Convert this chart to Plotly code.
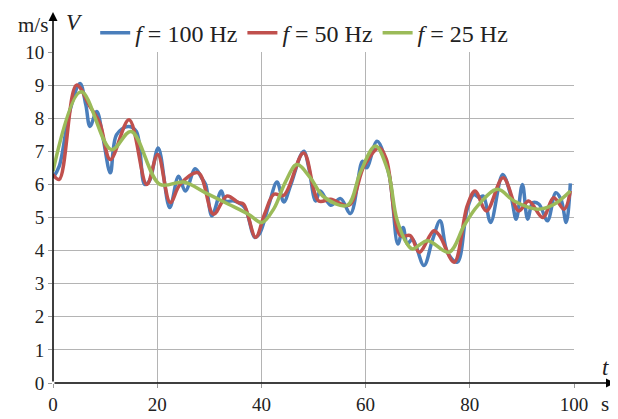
import plotly.graph_objects as go

# f = 100 Hz
t_100 = [0, 1.2, 3.2, 5.2, 6.3, 7.1, 8.4, 9.6, 11.0, 12.2, 14.4, 16.0, 17.6, 18.5, 20.2,
         22.4, 24.1, 25.4, 27.3, 28.5, 29.3, 30.5, 32.3, 33.1, 34.8, 36.8, 38.7, 39.6,
         41.4, 43.0, 44.3, 45.6, 47.6, 48.2, 49.1, 50.4, 51.3, 53.3, 55.2, 57.1, 59.4,
         60.2, 62.2, 64.5, 66.2, 67.2, 68.0, 69.0, 71.2, 72.8, 74.3, 75.7, 77.6, 79.5,
         80.8, 81.8, 82.6, 84.0, 86.3, 87.9, 88.9, 90.1, 91.1, 92.1, 93.3, 94.9, 96.5,
         97.5, 98.5, 99.3]
v_100 = [6.2, 6.55, 8.2, 9.05, 8.4, 7.75, 8.2, 7.4, 6.35, 7.5, 7.75, 7.6, 6.0, 6.1, 7.1,
         5.3, 6.25, 5.8, 6.47, 6.2, 6.0, 5.05, 5.8, 5.5, 5.5, 5.3, 4.4, 4.5,
         5.37, 6.07, 5.47, 5.97, 6.9, 7.0, 6.5, 5.5, 5.8, 5.37, 5.57, 5.12, 6.7,
         6.5, 7.3, 6.3, 4.2, 4.7, 4.2, 4.35, 3.55, 4.3, 4.9, 3.95, 3.65, 5.25,
         5.7, 5.6, 5.65, 4.85, 6.3, 5.65, 4.95, 6.0, 4.95, 5.45, 5.4, 4.9, 5.75,
         5.55, 4.85, 6.03]

# f = 50 Hz
t_50 = [0, 1.2, 4.5, 7.1, 9.0, 11.0, 14.6, 18.0, 20.1, 22.5, 24.4, 27.9, 30.8, 33.4,
        35.6, 36.6, 38.9, 40.6, 42.4, 44.3, 48.1, 51.0, 53.3, 56.8, 59.7, 62.6, 64.0,
        66.7, 68.6, 70.3, 73.1, 74.2, 77.0, 79.5, 81.0, 83.2, 86.4, 89.4, 91.3, 94.0,
        96.1, 98.1, 99.3]
v_50 = [6.3, 6.15, 9.0, 8.35, 7.85, 6.75, 7.95, 6.0, 6.9, 5.45, 6.0, 6.35, 5.1, 5.65,
        5.45, 5.4, 4.4, 5.1, 5.7, 5.67, 6.95, 5.5, 5.55, 5.37, 6.55, 7.1, 6.75,
        4.45, 4.45, 3.95, 4.6, 4.45, 3.65, 5.35, 5.8, 5.2, 6.2, 5.2, 5.5, 5.0,
        5.6, 5.25, 5.8]

# f = 25 Hz
t_25 = [0, 5.4, 11.2, 15.0, 20.5, 25.1, 29.2, 33.7, 37.5, 40.1, 42.4, 44.6, 46.8,
        49.4, 52.0, 56.5, 59.0, 61.9, 64.3, 66.0, 68.0, 69.0, 71.9, 76.0, 78.9, 81.5,
        85.3, 88.5, 93.0, 96.2, 99.3]
v_25 = [6.4, 8.8, 7.05, 7.6, 6.0, 6.07, 5.75, 5.4, 5.1, 4.85, 5.27, 6.07, 6.6,
        6.2, 5.62, 5.37, 6.37, 7.16, 6.4, 4.95, 4.2, 4.05, 4.3, 3.95, 4.75, 5.35,
        5.85, 5.5, 5.25, 5.4, 5.8]

x_ticks = [0, 20, 40, 60, 80, 100]
y_ticks = [0, 1, 2, 3, 4, 5, 6, 7, 8, 9, 10]

SERIF = "Liberation Serif"

fig = go.Figure()
for t, v, name, col in [
    (t_100, v_100, "<i>f</i> = 100 Hz", "#4a7ebb"),
    (t_50, v_50, "<i>f</i> = 50 Hz", "#c0504d"),
    (t_25, v_25, "<i>f</i> = 25 Hz", "#9bbb59"),
]:
    fig.add_trace(go.Scatter(x=t, y=v, mode="lines", name=name,
                             line=dict(color=col, width=3.5, shape="spline", smoothing=1.0)))

# page body has an 8px default margin, so the figure is 8px smaller on each side
fig.update_layout(
    width=610, height=411,
    margin=dict(l=45, r=44, t=44, b=36, autoexpand=False),
    paper_bgcolor="white", plot_bgcolor="white",
    font=dict(family=SERIF, size=18, color="#222"),
    showlegend=True,
    legend=dict(orientation="h", x=0.081, y=1.057, xanchor="left", yanchor="middle",
                font=dict(family=SERIF, size=24, color="#222"),
                bgcolor="rgba(0,0,0,0)", itemwidth=30, tracegroupgap=0),
    xaxis=dict(range=[0, 100], tickvals=x_ticks, ticktext=[str(v) for v in x_ticks],
               showgrid=True, gridcolor="#b4b4b4", gridwidth=1, automargin=False,
               showline=False, zeroline=False, ticks="outside", ticklen=4,
               tickcolor="#999", mirror=False, fixedrange=True,
               tickfont=dict(family=SERIF, size=19, color="#222")),
    yaxis=dict(range=[0, 10], tickvals=y_ticks, ticktext=[str(v) for v in y_ticks],
               showgrid=True, gridcolor="#b4b4b4", gridwidth=1, automargin=False,
               showline=False, zeroline=False, ticks="outside", ticklen=4,
               tickcolor="#999", fixedrange=True,
               tickfont=dict(family=SERIF, size=19, color="#222")),
)

# axis arrows
fig.add_annotation(x=0, y=1.121, xref="paper", yref="paper", ax=0, ay=371,
                   axref="pixel", ayref="pixel", text="", showarrow=True,
                   arrowhead=2, arrowsize=1.2, arrowwidth=1.5, arrowcolor="black")
fig.add_annotation(x=1.0787, y=0, xref="paper", yref="paper", ax=-562, ay=0,
                   axref="pixel", ayref="pixel", text="", showarrow=True,
                   arrowhead=2, arrowsize=1.2, arrowwidth=1.5, arrowcolor="black")

# axis labels
fig.add_annotation(x=-0.038, y=1.0816, xref="paper", yref="paper", text="m/s",
                   xanchor="center", yanchor="middle",
                   showarrow=False, font=dict(family=SERIF, size=21, color="#222"))
fig.add_annotation(x=0.042, y=1.09, xref="paper", yref="paper", text="<i>V</i>",
                   xanchor="center", yanchor="middle",
                   showarrow=False, font=dict(family=SERIF, size=23, color="#222"))
fig.add_annotation(x=1.061, y=0.048, xref="paper", yref="paper", text="<i>t</i>",
                   xanchor="center", yanchor="middle",
                   showarrow=False, font=dict(family=SERIF, size=23, color="#222"))
fig.add_annotation(x=1.06, y=-0.063, xref="paper", yref="paper", text="s",
                   xanchor="center", yanchor="middle",
                   showarrow=False, font=dict(family=SERIF, size=21, color="#222"))

fig.write_html("out.html")
